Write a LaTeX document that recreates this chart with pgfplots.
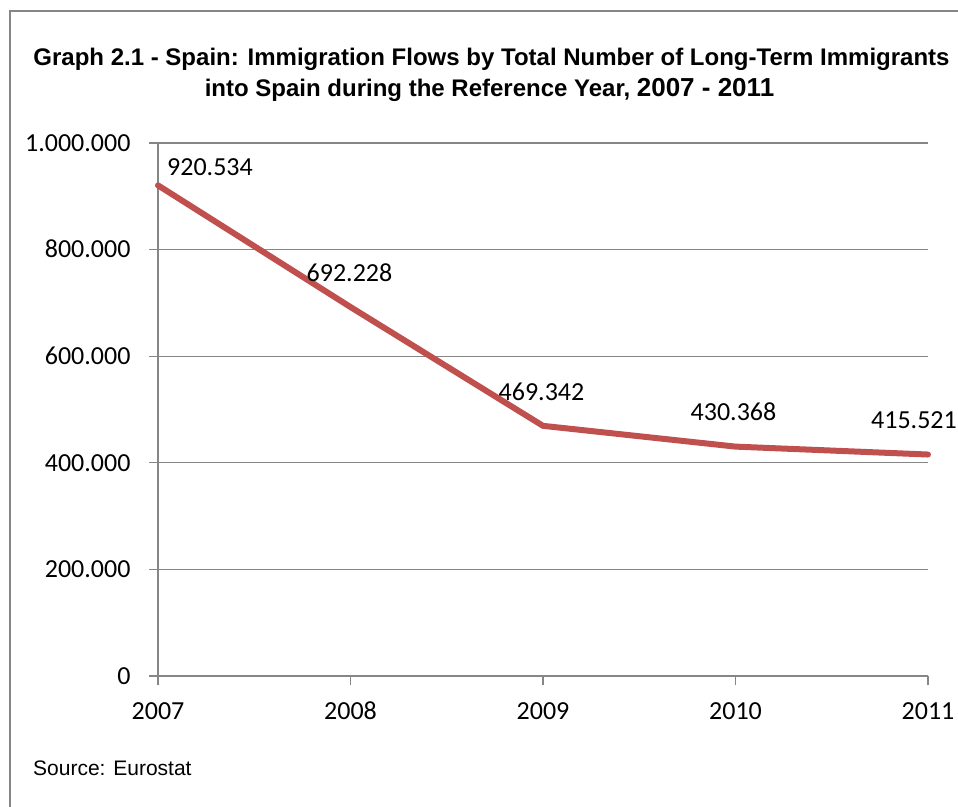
\documentclass[border=0pt]{standalone}
\usepackage{pgfplots}
\pgfplotsset{compat=1.18}
\usepackage{fontspec}
\setmainfont{Carlito}
\newfontfamily\arial{Liberation Sans}
\definecolor{linered}{HTML}{C0504D}
\definecolor{gridgray}{HTML}{868686}
\begin{document}
\begin{tikzpicture}[x=1pt,y=1pt]
\useasboundingbox (0,0) rectangle (958,806);
\clip (0,0) rectangle (958,806);
\draw[gridgray, line width=1.6pt] (10,-5) -- (10,795) -- (965,795);
\node[font=\arial\fontsize{24}{28}\selectfont\bfseries, anchor=base, inner sep=0pt] at (491.5,740) {Graph 2.1 - Spain: Immigration Flows by Total Number of Long-Term Immigrants};
\node[font=\arial\fontsize{24}{28}\selectfont\bfseries, anchor=base, inner sep=0pt] at (489.5,709) {into Spain during the Reference Year, {\fontsize{26}{30}\selectfont 2007 - 2011}};
\node[font=\arial\fontsize{21}{25}\selectfont, anchor=base west, inner sep=0pt] at (33,31) {Source: Eurostat};
\begin{axis}[
  at={(158pt,130pt)}, anchor=south west, scale only axis,
  width=770pt, height=533pt,
  xmin=2007, xmax=2011, ymin=0, ymax=1000000,
  xtick={2007,2008,2009,2010,2011},
  ytick={0,200000,400000,600000,800000,1000000},
  axis x line*=bottom, axis y line*=left,
  every non boxed x axis/.append style={xtick align=outside},
  every non boxed y axis/.append style={ytick align=outside},
  axis line style={gridgray, line width=1.3pt, -},
  ymajorgrids, grid style={gridgray, line width=1.3pt},
  tick style={gridgray, line width=1.3pt},
  xtick align=outside, ytick align=outside, major tick length=9pt,
  scaled y ticks=false, scaled x ticks=false,
  /pgf/number format/assume math mode=true,
  /pgf/number format/fixed, /pgf/number format/precision=0,
  typeset ticklabels with strut,
  tick label style={font=\fontsize{26}{30}\selectfont},
  x tick label style={/pgf/number format/1000 sep={}, anchor=north, yshift=-9.5pt},
  y tick label style={/pgf/number format/1000 sep={.}, anchor=east, xshift=-15pt, yshift=-2.25pt},
  clip=false,
]
\addplot[linered, line width=6pt, line join=round, line cap=round, mark=none]
  coordinates {(2007,920534) (2008,692228) (2009,469342) (2010,430368) (2011,415521)};
\addplot[draw=none, mark=none, nodes near coords, point meta=explicit symbolic,
  visualization depends on={\thisrow{dx}\as\dx},
  visualization depends on={\thisrow{dy}\as\dy},
  every node near coord/.append style={anchor=center, xshift=\dx, yshift=\dy,
    font=\fontsize{26}{30}\selectfont, inner sep=0pt, text=black}]
  table[x=x, y=y, meta=lab] {
x    y      lab     dx    dy
2007 920534 920.534 52    18
2008 692228 692.228 -1    34
2009 469342 469.342 -1.5  34.5
2010 430368 430.368 -2    35
2011 415521 415.521 -14   34.5
};
\end{axis}
\end{tikzpicture}
\end{document}
